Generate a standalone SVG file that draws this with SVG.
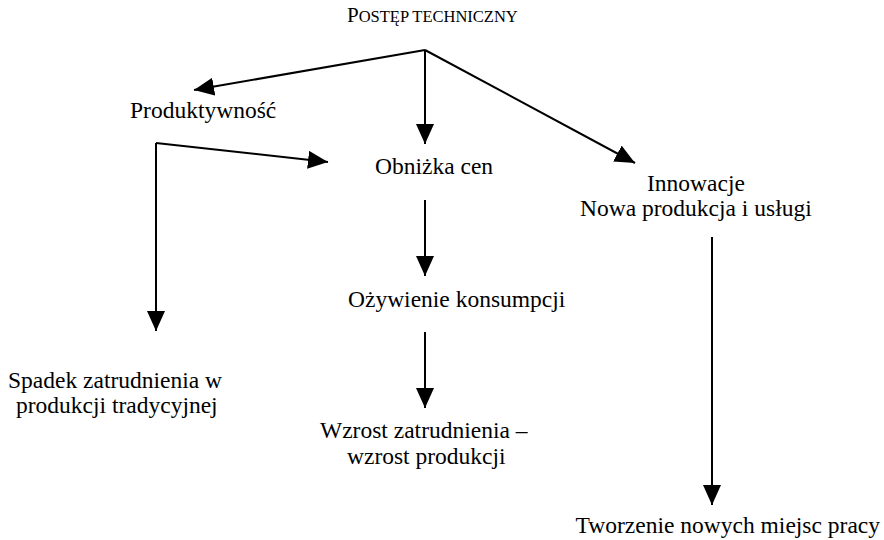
<svg xmlns="http://www.w3.org/2000/svg" width="884" height="540" viewBox="0 0 884 540">
  <style>
    .lbl { font-family: "Liberation Serif", "Times New Roman", serif; font-size: 23.5px; fill: #000; }
    .end { text-anchor: end; }
    .edge { fill: none; stroke: #000; stroke-width: 2; marker-end: url(#head); }
  </style>
  <defs>
    <marker id="head" markerUnits="userSpaceOnUse" markerWidth="22" markerHeight="20" refX="20" refY="9" orient="auto">
      <path d="M0,0 L20,9 L0,18 Z" fill="#000"/>
    </marker>
  </defs>
  <rect width="884" height="540" fill="#fff"/>

  <g id="postep">
    <text class="lbl" x="347" y="22"><tspan font-size="21">P</tspan><tspan font-size="16.5">OSTĘP TECHNICZNY</tspan></text>
  </g>
  <g id="produktywnosc">
    <text class="lbl" x="130" y="118">Produktywność</text>
  </g>
  <g id="obnizka">
    <text class="lbl" x="375" y="174">Obniżka cen</text>
  </g>
  <g id="innowacje">
    <text class="lbl" x="647" y="191">Innowacje</text>
    <text class="lbl" x="580" y="216">Nowa produkcja i usługi</text>
  </g>
  <g id="ozywienie">
    <text class="lbl" x="348" y="307">Ożywienie konsumpcji</text>
  </g>
  <g id="spadek">
    <text class="lbl" x="8" y="388">Spadek zatrudnienia w</text>
    <text class="lbl" x="16" y="413">produkcji tradycyjnej</text>
  </g>
  <g id="wzrost">
    <text class="lbl" x="320" y="438">Wzrost zatrudnienia –</text>
    <text class="lbl" x="347" y="464">wzrost produkcji</text>
  </g>
  <g id="tworzenie">
    <text class="lbl end" x="880" y="533">Tworzenie nowych miejsc pracy</text>
  </g>

  <g id="connectors">
    <path class="edge" d="M425,50 L194,90"/>
    <path class="edge" d="M425,50 L425,144"/>
    <path class="edge" d="M425,50 L635,163"/>
    <path class="edge" d="M156,143 L328,162"/>
    <path class="edge" d="M156,143 L156,331"/>
    <path class="edge" d="M425,200 L425,276"/>
    <path class="edge" d="M425,332 L425,408"/>
    <path class="edge" d="M712,237 L712,505"/>
  </g>
</svg>
